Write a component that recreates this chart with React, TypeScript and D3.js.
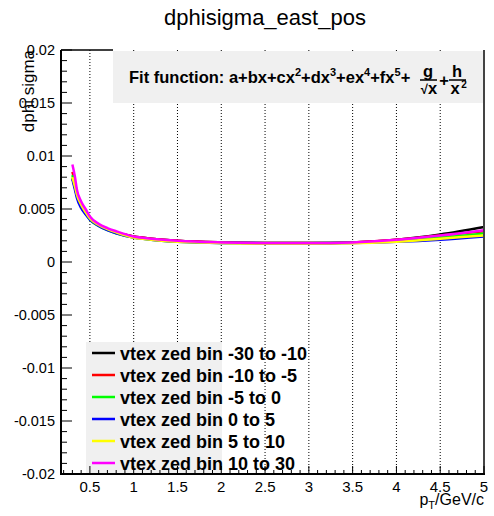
import React from "react";
import * as d3 from "d3";

const W = 494;
const H = 516;

const xs = [0.3, 0.33, 0.35, 0.4, 0.45, 0.5, 0.6, 0.7, 0.8, 1.0, 1.2, 1.5, 2.0, 2.5, 3.0, 3.5, 4.0, 4.5, 5.0];
const seriesNames = [
  "vtex zed bin -30 to -10",
  "vtex zed bin -10 to -5",
  "vtex zed bin -5 to 0",
  "vtex zed bin 0 to 5",
  "vtex zed bin 5 to 10",
  "vtex zed bin 10 to 30",
];
const seriesColors = ["#000000", "#ff0000", "#00ff00", "#0000ff", "#ffff00", "#ff00ff"];
const blackVals = [0.0079, 0.0070, 0.0063, 0.0053, 0.0046, 0.0041, 0.0035, 0.0031, 0.0028, 0.0024, 0.0022, 0.0020, 0.00185, 0.0018, 0.0018, 0.00185, 0.0021, 0.0026, 0.0033];
const redVals = [0.0085, 0.0075, 0.0066, 0.0055, 0.0048, 0.0042, 0.0035, 0.0031, 0.0028, 0.0024, 0.0022, 0.0020, 0.00185, 0.0018, 0.0018, 0.00185, 0.0021, 0.0025, 0.0029];
const greenVals = [0.0082, 0.0072, 0.0064, 0.0053, 0.0046, 0.0040, 0.0034, 0.0030, 0.0027, 0.0023, 0.0021, 0.0019, 0.0018, 0.0018, 0.0018, 0.00182, 0.0020, 0.0023, 0.0027];
const blueVals = [0.0078, 0.0068, 0.0061, 0.0051, 0.0045, 0.0040, 0.0034, 0.0030, 0.0027, 0.0023, 0.0021, 0.0019, 0.0018, 0.00178, 0.00178, 0.0018, 0.0019, 0.0021, 0.0024];
const yellowVals = [0.0080, 0.0071, 0.0064, 0.0054, 0.0047, 0.0041, 0.0035, 0.0031, 0.0028, 0.0023, 0.0021, 0.0019, 0.0018, 0.00175, 0.00175, 0.00176, 0.0019, 0.0022, 0.0025];
const magentaVals = [0.0092, 0.0080, 0.0069, 0.0057, 0.0050, 0.0043, 0.0036, 0.0032, 0.0029, 0.0024, 0.0022, 0.0020, 0.00185, 0.0018, 0.0018, 0.00185, 0.0021, 0.0025, 0.0030];
const allSeries = [blackVals, redVals, greenVals, blueVals, yellowVals, magentaVals];

const xMajor = [0.5, 1, 1.5, 2, 2.5, 3, 3.5, 4, 4.5, 5];
const xLabels = ["0.5", "1", "1.5", "2", "2.5", "3", "3.5", "4", "4.5", "5"];
const yMajor = [-0.02, -0.015, -0.01, -0.005, 0, 0.005, 0.01, 0.015, 0.02];
const yLabels = ["-0.02", "-0.015", "-0.01", "-0.005", "0", "0.005", "0.01", "0.015", "0.02"];

const FONT = "'Liberation Sans', Arial, Helvetica, sans-serif";

export default function App() {
  const L = 61, R = 484, T = 50, B = 474;
  const x = d3.scaleLinear().domain([0.17, 5]).range([L, R]);
  const y = d3.scaleLinear().domain([-0.02, 0.02]).range([B, T]);

  const xMinor = d3.range(2, 51).map((v) => v / 10).filter((v) => !xMajor.some((m) => Math.abs(m - v) < 1e-6));
  const yMinor = d3.range(-20, 21).map((v) => v / 1000).filter((v) => !yMajor.some((m) => Math.abs(m - v) < 1e-9));

  const line = d3
    .line<number>()
    .x((_, i) => x(xs[i]))
    .y((d) => y(d))
    .curve(d3.curveMonotoneX);

  const legendY0 = 353;
  const legendDy = 22;

  return (
    <svg width={W} height={H} style={{ position: "absolute", left: 0, top: 0 }} fontFamily={FONT}>
      <rect x={0} y={0} width={W} height={H} fill="#ffffff" />
      {/* title */}
      <text x={265} y={25} fontSize={22} textAnchor="middle" fill="#000">dphisigma_east_pos</text>

      {/* grid */}
      {xMajor.slice(0, -1).map((v) => (
        <line key={"g" + v} x1={x(v)} x2={x(v)} y1={T} y2={B} stroke="#000" strokeWidth={1} strokeDasharray="1,2" />
      ))}

      {/* curves */}
      {allSeries.map((s, i) => (
        <path key={"s" + i} d={line(s) || ""} fill="none" stroke={seriesColors[i]} strokeWidth={2.5} />
      ))}

      {/* fit box */}
      <rect x={113} y={51} width={R - 113} height={52} fill="#f0f0f0" />
      <text x={129} y={83} fontSize={16.5} fontWeight="bold" fill="#000">
        Fit function: a+bx+cx
        <tspan fontSize={11} dy={-7}>2</tspan>
        <tspan dy={7}>+dx</tspan>
        <tspan fontSize={11} dy={-7}>3</tspan>
        <tspan dy={7}>+ex</tspan>
        <tspan fontSize={11} dy={-7}>4</tspan>
        <tspan dy={7}>+fx</tspan>
        <tspan fontSize={11} dy={-7}>5</tspan>
        <tspan dy={7}>+</tspan>
      </text>
      <text x={428} y={77} fontSize={16.5} fontWeight="bold" textAnchor="middle">g</text>
      <line x1={420} x2={437} y1={80} y2={80} stroke="#000" strokeWidth={1.5} />
      <text x={429} y={94} fontSize={16.5} fontWeight="bold" textAnchor="middle">
        <tspan fontSize={13}>√</tspan>x
      </text>
      <text x={444} y={86} fontSize={16.5} fontWeight="bold" textAnchor="middle">+</text>
      <text x={457} y={77} fontSize={16.5} fontWeight="bold" textAnchor="middle">h</text>
      <line x1={449} x2={466} y1={80} y2={80} stroke="#000" strokeWidth={1.5} />
      <text x={455} y={94} fontSize={16.5} fontWeight="bold" textAnchor="middle">x</text>
      <text x={464} y={88} fontSize={10} fontWeight="bold" textAnchor="middle">2</text>

      {/* legend */}
      <rect x={86} y={342} width={222 - 86} height={B - 342} fill="#f0f0f0" />
      {seriesNames.map((n, i) => (
        <g key={"l" + i}>
          <line x1={92} x2={115} y1={legendY0 + i * legendDy} y2={legendY0 + i * legendDy} stroke={seriesColors[i]} strokeWidth={2.5} />
          <text x={120} y={legendY0 + i * legendDy + 6.5} fontSize={18} fontWeight="bold" fill="#000">{n}</text>
        </g>
      ))}

      {/* frame */}
      <line x1={L} x2={113} y1={T} y2={T} stroke="#000" strokeWidth={1.5} />
      <line x1={R} x2={R} y1={T} y2={B} stroke="#444" strokeWidth={2} />
      <line x1={L} x2={L} y1={T} y2={B + 1} stroke="#000" strokeWidth={2} />
      <line x1={L} x2={R + 1} y1={B} y2={B} stroke="#000" strokeWidth={2} />

      {/* x ticks */}
      {xMajor.map((v) => (
        <line key={"xt" + v} x1={x(v)} x2={x(v)} y1={B} y2={B - 8} stroke="#000" strokeWidth={1} />
      ))}
      {xMinor.map((v) => (
        <line key={"xm" + v} x1={x(v)} x2={x(v)} y1={B} y2={B - 4} stroke="#000" strokeWidth={1} />
      ))}
      {xMajor.map((v, i) => (
        <text key={"xl" + v} x={x(v)} y={492} fontSize={15} textAnchor="middle" fill="#000">{xLabels[i]}</text>
      ))}

      {/* y ticks */}
      {yMajor.map((v) => (
        <line key={"yt" + v} x1={L} x2={L + 11} y1={y(v)} y2={y(v)} stroke="#000" strokeWidth={1} />
      ))}
      {yMinor.map((v) => (
        <line key={"ym" + v} x1={L} x2={L + 6} y1={y(v)} y2={y(v)} stroke="#000" strokeWidth={1} />
      ))}
      {yMajor.map((v, i) => (
        <text key={"yl" + v} x={55} y={y(v) + 5} fontSize={14.5} textAnchor="end" fill="#000">{yLabels[i]}</text>
      ))}

      {/* axis titles */}
      <text transform={`translate(34,${T}) rotate(-90)`} fontSize={17} textAnchor="end" fill="#000">dphi sigma</text>
      <text x={484} y={505} fontSize={16} textAnchor="end" fill="#000">
        p<tspan fontSize={11} dy={4}>T</tspan><tspan dy={-4}>/GeV/c</tspan>
      </text>
    </svg>
  );
}
